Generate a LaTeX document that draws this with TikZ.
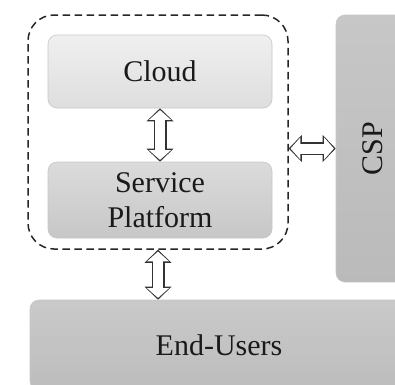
\documentclass[tikz,border=0pt]{standalone}
\usepackage{fontspec}
\setmainfont{Liberation Serif}
\usetikzlibrary{arrows.meta,calc}
\definecolor{txt}{HTML}{1A1A1A}
\begin{document}
\begin{tikzpicture}[x=1pt,y=-1pt,
  box/.style={rounded corners=9pt, draw=black!22, line width=0.6pt,
    font=\fontsize{30}{35}\selectfont, text=txt, align=center, inner sep=0pt},
  grp/.style={draw=black!85, dash pattern=on 7.5pt off 4.5pt, line width=1.5pt,
    rounded corners=26pt, inner sep=0pt},
  aout/.style={line width=13pt, draw=black!80,
    {Triangle[length=13pt,width=27pt,line width=0pt]}-{Triangle[length=13pt,width=27pt,line width=0pt]}},
  ain/.style={line width=10pt, draw=white, shorten >=1.8pt, shorten <=1.8pt,
    {Triangle[length=9.8pt,width=22pt,line width=0pt]}-{Triangle[length=9.8pt,width=22pt,line width=0pt]}}
]
\useasboundingbox (0,0) rectangle (395,384);
\fill[white] (0,0) rectangle (395,384);
\clip (0,0) rectangle (395,384);

\node[grp, minimum width=260pt, minimum height=234pt] (grp) at (158,132) {};
\node[box, top color=white!94!black, bottom color=white!87!black,
  minimum width=224pt, minimum height=73pt] (cloud) at (160,71.5) {Cloud};
\node[box, top color=white!86!black, bottom color=white!78!black,
  minimum width=224pt, minimum height=76pt] (sp) at (160,200) {Service\\Platform};
\node[box, top color=white!78!black, bottom color=white!73!black,
  minimum width=74pt, minimum height=267pt] (csp) at (373,148.5) {\rotatebox{90}{CSP}};
\node[box, top color=white!79!black, bottom color=white!74!black,
  minimum width=378pt, minimum height=90pt] (eu) at (219,345) {End-Users};

\draw[aout] (cloud.south) -- (sp.north);
\draw[ain] (cloud.south) -- (sp.north);
\draw[aout] (grp.east |- csp.west) -- (csp.west);
\draw[ain] (grp.east |- csp.west) -- (csp.west);
\draw[aout] (grp.south) -- (grp.south |- eu.north);
\draw[ain] (grp.south) -- (grp.south |- eu.north);
\end{tikzpicture}
\end{document}
